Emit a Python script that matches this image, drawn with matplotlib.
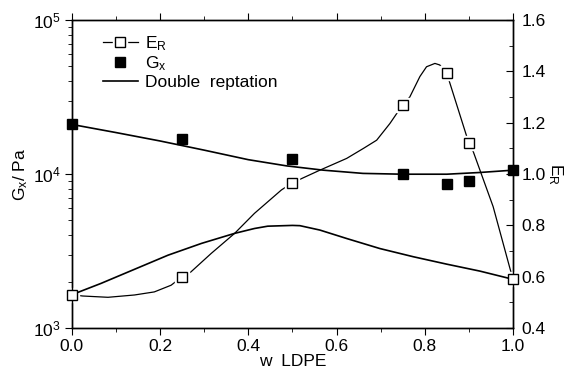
import matplotlib
matplotlib.use("Agg")
import matplotlib.pyplot as plt
from matplotlib.ticker import MultipleLocator, LogLocator, FixedLocator, NullFormatter

plt.rcParams['font.family'] = ['Liberation Sans', 'DejaVu Sans']
plt.rcParams['mathtext.fontset'] = 'custom'
plt.rcParams['mathtext.rm'] = 'Liberation Sans'
plt.rcParams['mathtext.it'] = 'Liberation Sans:italic'
plt.rcParams['font.size'] = 12.5

# measured points
w_ldpe = [0.0, 0.25, 0.5, 0.75, 0.85, 0.9, 1.0]
e_r = [0.53, 0.60, 0.966, 1.27, 1.392, 1.12, 0.59]
g_x = [2.1e4, 1.7e4, 1.25e4, 1.0e4, 8.57e3, 9.0e3, 1.06e4]

# smooth line drawn through the E_R points
fit_w = [0.0, 0.025, 0.082, 0.142, 0.187, 0.225, 0.25, 0.27, 0.316, 0.369, 0.414,
         0.475, 0.5, 0.562, 0.623, 0.661, 0.691, 0.721, 0.75, 0.766, 0.789, 0.804,
         0.823, 0.834, 0.85, 0.9, 0.91, 0.955, 0.993, 1.0]
fit_er = [0.53, 0.525, 0.52, 0.529, 0.541, 0.567, 0.60, 0.619, 0.691, 0.769, 0.847,
          0.938, 0.966, 1.015, 1.061, 1.10, 1.132, 1.197, 1.27, 1.30, 1.38, 1.418,
          1.431, 1.425, 1.392, 1.12, 1.087, 0.873, 0.633, 0.59]

# double reptation predictions
dr_gx_w = [0.0, 0.1, 0.2, 0.3, 0.4, 0.487, 0.57, 0.66, 0.75, 0.85, 0.925, 1.0]
dr_gx = [2.1e4, 1.86e4, 1.64e4, 1.43e4, 1.24e4, 1.13e4, 1.06e4, 1.01e4, 9.98e3,
         9.98e3, 1.024e4, 1.06e4]
dr_er_w = [0.0, 0.066, 0.142, 0.218, 0.294, 0.369, 0.414, 0.444, 0.5, 0.517,
           0.562, 0.623, 0.698, 0.774, 0.85, 0.925, 1.0]
dr_er = [0.53, 0.574, 0.629, 0.684, 0.73, 0.769, 0.788, 0.797, 0.80, 0.799,
         0.782, 0.749, 0.71, 0.678, 0.649, 0.622, 0.59]

fig = plt.figure(figsize=(5.7, 3.78), dpi=100)
ax = fig.add_axes([0.126, 0.132, 0.774, 0.815])
ax2 = ax.twinx()

# left axis: G_x
ax.plot(dr_gx_w, dr_gx, color='black', lw=1.2)
ax.plot(w_ldpe, g_x, ls='none', marker='s', ms=6.5, color='black', clip_on=False)
ax.set_yscale('log')
ax.set_ylim(1e3, 1e5)
ax.set_xlim(0, 1.0)
ax.yaxis.set_major_locator(FixedLocator([1e3, 1e4, 1e5]))
ax.set_yticklabels([r'$10^3$', r'$10^4$', r'$10^5$'])
ax.yaxis.set_minor_locator(LogLocator(base=10, subs=range(2, 10)))
ax.yaxis.set_minor_formatter(NullFormatter())
ax.xaxis.set_major_locator(MultipleLocator(0.2))
ax.xaxis.set_minor_locator(MultipleLocator(0.1))
ax.xaxis.set_major_formatter(plt.FuncFormatter(lambda v, p: f"{v:.1f}"))
ax.tick_params(which='both', direction='out', top=True, pad=3)
ax.tick_params(which='major', length=5)
ax.tick_params(which='minor', length=3)
ax.set_xlabel('w  LDPE', labelpad=0)
ax.set_ylabel(r'G$_\mathregular{x}$/ Pa', labelpad=2)

# right axis: E_R
ax2.plot(fit_w, fit_er, color='black', lw=0.9, zorder=2)
# white squares behind the open markers leave gaps in the fitted line
ax2.plot(w_ldpe, e_r, ls='none', marker='s', ms=9.5, color='white', mec='white',
         zorder=2.2, clip_on=False)
ax2.plot(dr_er_w, dr_er, color='black', lw=1.2, zorder=2.4)
ax2.plot(w_ldpe, e_r, ls='none', marker='s', ms=6.5, mfc='white', mec='black',
         mew=1.0, zorder=3, clip_on=False)
ax2.set_ylim(0.4, 1.6)
ax2.yaxis.set_major_locator(MultipleLocator(0.2))
ax2.yaxis.set_minor_locator(MultipleLocator(0.1))
ax2.yaxis.set_major_formatter(plt.FuncFormatter(lambda v, p: f"{v:.1f}"))
ax2.tick_params(which='both', direction='in', pad=6)
ax2.tick_params(which='major', length=5)
ax2.tick_params(which='minor', length=3)
ax2.set_ylabel(r'E$_\mathregular{R}$', rotation=-90, labelpad=14)

for a in (ax, ax2):
    for s in a.spines.values():
        s.set_linewidth(1.0)

gx_handle = plt.Line2D([], [], ls='none', marker='s', ms=6.5, color='black')
dr_handle = plt.Line2D([], [], color='black', lw=1.2)
er_line = plt.Line2D([], [], color='black', lw=0.9)
er_mask = plt.Line2D([], [], ls='none', marker='s', ms=10, color='white')
er_pt = plt.Line2D([], [], ls='none', marker='s', ms=6.5, mfc='white', mec='black')
ax2.legend([(er_line, er_mask, er_pt), gx_handle, dr_handle],
           [r'E$_\mathregular{R}$', r'G$_\mathregular{x}$', 'Double  reptation'],
           loc='upper left', bbox_to_anchor=(0.035, 1.005), frameon=False,
           handlelength=2.0, handletextpad=0.45, labelspacing=0.1, fontsize=12.5)

fig.savefig('out.png', dpi=100)
